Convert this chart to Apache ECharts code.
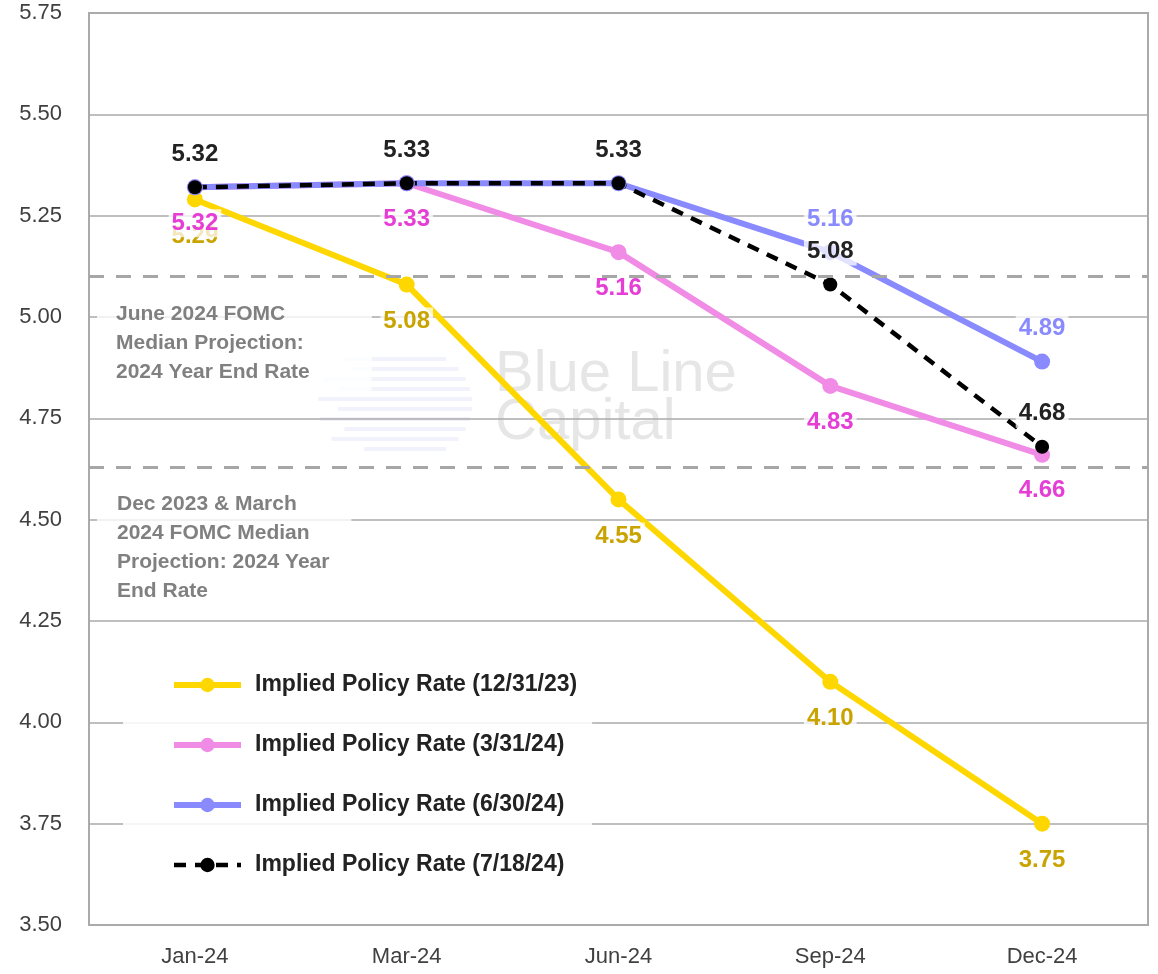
<!DOCTYPE html>
<html>
<head>
<meta charset="utf-8">
<script src="https://cdn.jsdelivr.net/npm/echarts@6/dist/echarts.min.js"></script>
<style>
  html, body { margin: 0; padding: 0; background: #fff; }
  #chart { width: 1158px; height: 974px; }
</style>
</head>
<body>
<div id="chart"></div>
<script>
// data
const months = ['Jan-24', 'Mar-24', 'Jun-24', 'Sep-24', 'Dec-24']
const rateDec23 = [5.29, 5.08, 4.55, 4.10, 3.75]
const rateMar24 = [5.32, 5.33, 5.16, 4.83, 4.66]
const rateJun24 = [5.32, 5.33, 5.33, 5.16, 4.89]
const rateJul24 = [5.32, 5.33, 5.33, 5.08, 4.68]
const seriesNames = [
  'Implied Policy Rate (12/31/23)',
  'Implied Policy Rate (3/31/24)',
  'Implied Policy Rate (6/30/24)',
  'Implied Policy Rate (7/18/24)'
]
const fomcJune24 = 5.10
const fomcDec23Mar24 = 4.63
// only the last two points of the 6/30 line carry their own label
const jun24Labelled = [false, false, false, true, true]

const sans = "'Liberation Sans', Arial, sans-serif"

const chart = echarts.init(document.getElementById('chart'))

function dataLabel(color, position, distance) {
  return {
    show: true,
    position,
    distance,
    color,
    fontFamily: sans,
    fontWeight: 'bold',
    fontSize: 24,
    backgroundColor: 'rgba(255,255,255,0.75)',
    padding: [2, 3],
    formatter: (p) => Number(p.value).toFixed(2)
  }
}

// faint logo stripes next to the watermark
const logoStripes = []
for (let i = 0; i < 10; i++) {
  const dy = -45 + i * 10
  const half = Math.sqrt(Math.max(0, 52 * 52 - dy * dy))
  logoStripes.push({
    type: 'rect',
    shape: { x: 420 - half - 50 + i % 2 * 20, y: 402 + dy, width: half * 2 + 50 - i % 2 * 20, height: 4 },
    style: { fill: '#f1f2fc' }
  })
}

const noteStyle = {
  font: 'bold 21px ' + sans,
  lineHeight: 29,
  fill: '#808080',
  backgroundColor: 'rgba(255,255,255,0.8)'
}

chart.setOption({
  backgroundColor: '#fff',
  animation: false,
  grid: {
    left: 89,
    top: 13,
    right: 10,
    bottom: 49,
    show: true,
    borderColor: '#aaaaaa',
    borderWidth: 2
  },
  legend: {
    orient: 'vertical',
    left: 123,
    top: 650,
    padding: [20, 15, 20, 48],
    backgroundColor: 'rgba(255,255,255,0.85)',
    itemWidth: 67,
    itemHeight: 18,
    itemGap: 30,
    lineStyle: { width: 'inherit' },
    textStyle: {
      fontFamily: sans,
      fontWeight: 'bold',
      fontSize: 23,
      lineHeight: 30,
      color: '#222',
      padding: [0, 0, 0, 9]
    },
    data: seriesNames
  },
  xAxis: {
    type: 'category',
    data: months,
    boundaryGap: true,
    axisTick: { show: false },
    axisLine: { lineStyle: { color: '#aaaaaa', width: 2 } },
    axisLabel: { fontFamily: sans, fontSize: 22, color: '#404040', margin: 21 }
  },
  yAxis: {
    type: 'value',
    min: 3.5,
    max: 5.75,
    interval: 0.25,
    axisLine: { show: true, lineStyle: { color: '#aaaaaa', width: 2 } },
    axisTick: { show: false },
    axisLabel: {
      fontFamily: sans,
      fontSize: 22,
      color: '#404040',
      margin: 27,
      formatter: (v) => v.toFixed(2)
    },
    splitLine: { lineStyle: { color: '#aaaaaa', width: 1.5 } }
  },
  graphic: [
    {
      type: 'group',
      z: -10,
      silent: true,
      children: logoStripes.concat([
        {
          type: 'text',
          left: 495,
          top: 346,
          style: {
            text: 'Blue Line\nCapital',
            font: '58px ' + sans,
            lineHeight: 48,
            fill: '#e6e6e6'
          }
        }
      ])
    },
    {
      type: 'text',
      left: 97,
      top: 294,
      z: 10,
      style: Object.assign({}, noteStyle, {
        text: 'June 2024 FOMC\nMedian Projection:\n2024 Year End Rate',
        padding: [6, 62, 6, 19]
      })
    },
    {
      type: 'text',
      left: 97,
      top: 484,
      z: 10,
      style: Object.assign({}, noteStyle, {
        text: 'Dec 2023 & March\n2024 FOMC Median\nProjection: 2024 Year\nEnd Rate',
        padding: [6, 22, 6, 20]
      })
    }
  ],
  series: [
    {
      name: seriesNames[0],
      type: 'line',
      data: rateDec23,
      symbol: 'circle',
      symbolSize: 16,
      itemStyle: { color: '#FFD700' },
      lineStyle: { color: '#FFD700', width: 6 },
      label: dataLabel('#C9A400', 'bottom', 15),
      markLine: {
        silent: true,
        symbol: 'none',
        label: { show: false },
        lineStyle: { color: '#a6a6a6', type: [15, 12], width: 3 },
        data: [{ yAxis: fomcJune24 }, { yAxis: fomcDec23Mar24 }]
      }
    },
    {
      name: seriesNames[1],
      type: 'line',
      data: rateMar24,
      symbol: 'circle',
      symbolSize: 16,
      itemStyle: { color: '#F08BE6' },
      lineStyle: { color: '#F08BE6', width: 6 },
      label: dataLabel('#E63DD6', 'bottom', 14)
    },
    {
      name: seriesNames[2],
      type: 'line',
      data: rateJun24.map((v, i) => ({ value: v, label: { show: jun24Labelled[i] } })),
      symbol: 'circle',
      symbolSize: 16,
      itemStyle: { color: '#8A8AFF' },
      lineStyle: { color: '#8A8AFF', width: 6 },
      label: dataLabel('#8A8AFF', 'top', 11)
    },
    {
      name: seriesNames[3],
      type: 'line',
      data: rateJul24,
      symbol: 'circle',
      symbolSize: 14,
      itemStyle: { color: '#000' },
      lineStyle: { color: '#000', width: 4.5, type: [12, 9] },
      label: dataLabel('#222222', 'top', 12)
    }
  ]
})

window.addEventListener('resize', () => chart.resize())
</script>
</body>
</html>
